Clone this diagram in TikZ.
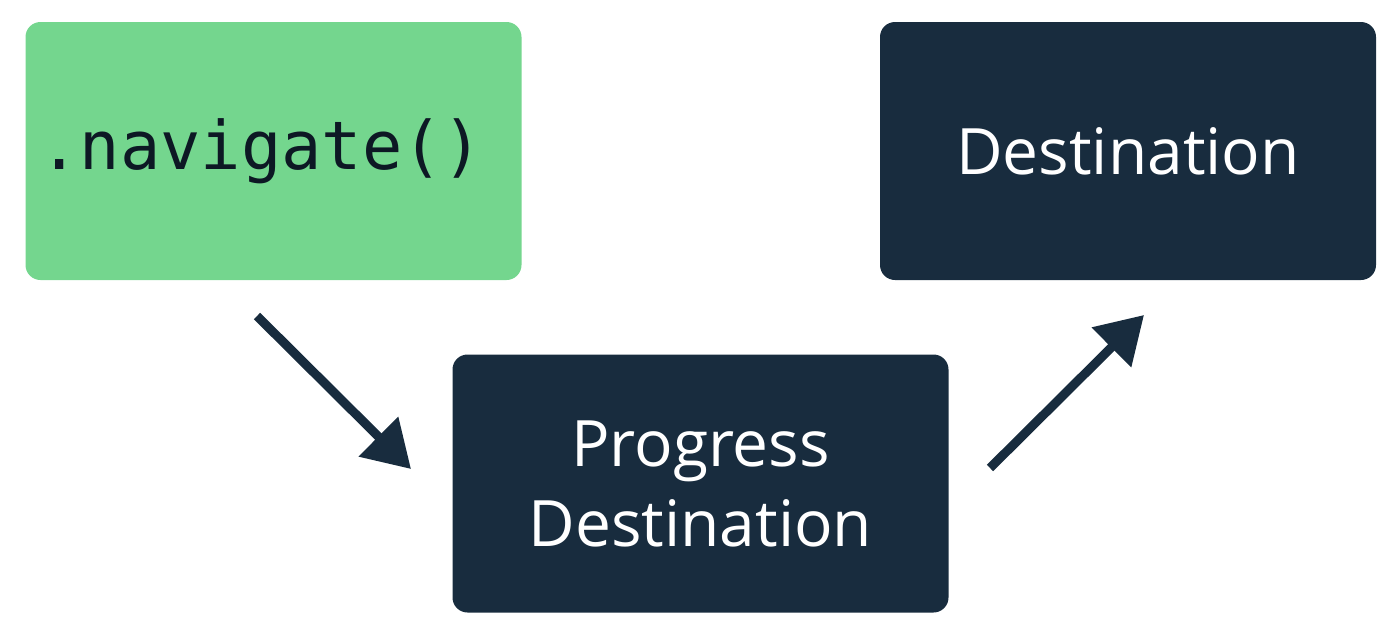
\documentclass[tikz,border=0pt]{standalone}
\usepackage{fontspec}
\setmainfont{Open Sans}
\setmonofont{DejaVu Sans Mono}
\usetikzlibrary{arrows.meta}
\definecolor{navgreen}{HTML}{74D68E}
\definecolor{navdark}{HTML}{182C3E}
\definecolor{navink}{HTML}{0D1824}
\tikzset{
  box/.style={rounded corners=15pt, minimum width=496pt, minimum height=258pt, inner sep=0pt, align=center},
  label/.style={font=\fontsize{64}{80}\selectfont},
  flow/.style={navdark, line width=9pt, -{Triangle[length=46pt,width=54pt]}}
}
\begin{document}
\begin{tikzpicture}[x=1pt,y=-1pt,line join=miter]
\useasboundingbox (0,0) rectangle (1400,635);
\node[box, fill=navgreen, text=navink, font=\fontsize{67}{80}\selectfont\ttfamily] (nav) at (273.5,151) {\hspace*{-24pt}.navigate()};
\node[box, label, fill=navdark, text=white] (dest) at (1128,151) {Destination};
\node[box, label, fill=navdark, text=white] (prog) at (700.5,483.5) {Progress\\Destination};
% arrow ends
\coordinate (a1) at (257,316);
\coordinate (a2) at (411,469);
\coordinate (b1) at (990,468);
\coordinate (b2) at (1144,315);
\draw[flow] (a1) -- (a2);
\draw[flow] (b1) -- (b2);
\end{tikzpicture}
\end{document}
